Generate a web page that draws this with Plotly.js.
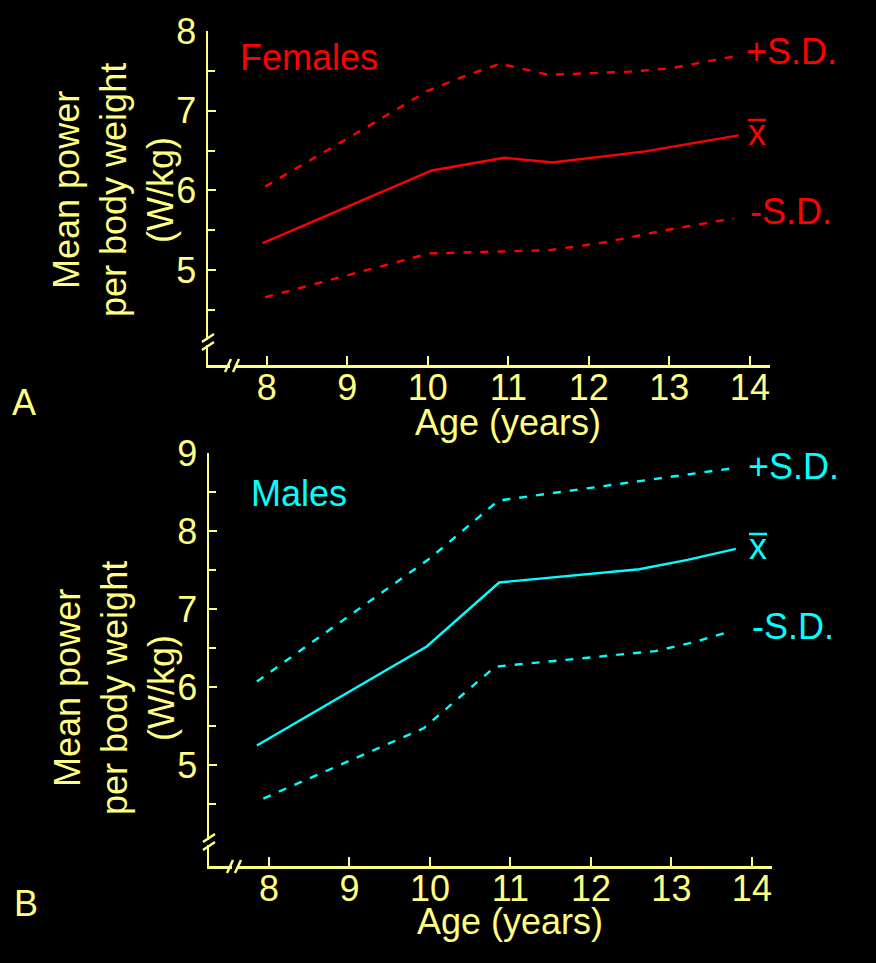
<!DOCTYPE html>
<html>
<head>
<meta charset="utf-8">
<script src="https://cdn.plot.ly/plotly-3.0.1.min.js"></script>
<style>html,body{margin:0;padding:0;background:#000;}#chart{width:876px;height:963px;}</style>
</head>
<body>
<div id="chart"></div>
<script>
// ---------- data ----------
const xTickVals = [8, 9, 10, 11, 12, 13, 14];
const femYTicks = [5, 6, 7, 8];
const femYMinor = [4.5, 5.5, 6.5, 7.5];
const maleYTicks = [5, 6, 7, 8, 9];
const maleYMinor = [4.5, 5.5, 6.5, 7.5, 8.5];

const femAgeMean = [7.95, 10.05, 10.95, 11.55, 12.7, 13.86];
const femMean    = [5.34, 6.25, 6.41, 6.35, 6.49, 6.69];
const femAgePlus = [7.98, 9.0, 10.0, 10.5, 10.9, 11.5, 12.5, 13.0, 13.8];
const femPlus    = [6.05, 6.65, 7.25, 7.45, 7.59, 7.45, 7.49, 7.53, 7.68];
const femAgeMinus = [7.98, 10.02, 11.5, 12.15, 13.0, 13.8];
const femMinus    = [4.66, 5.21, 5.25, 5.34, 5.51, 5.65];

const maleAgeMean = [7.85, 9.96, 10.86, 12.6, 13.2, 13.8];
const maleMean    = [5.25, 6.52, 7.34, 7.51, 7.63, 7.77];
const maleAgePlus = [7.85, 10.0, 10.85, 12.1, 13.2, 13.8];
const malePlus    = [6.07, 7.65, 8.39, 8.57, 8.72, 8.81];
const maleAgeMinus = [7.93, 9.92, 10.81, 11.5, 12.05, 12.8, 13.3, 13.75];
const maleMinus    = [4.57, 5.47, 6.26, 6.33, 6.39, 6.46, 6.58, 6.72];

// ---------- styling ----------
const W = 876, H = 963;
const YEL = '#ffff80', RED = '#ff0000', CYAN = '#00ffff';
const FONT = 'Liberation Sans, Arial, Helvetica, sans-serif';
const FS = 36;
const DASH = '8px,9px';
const px = v => v / W;
const py = v => 1 - v / H;

function line(x, y, color, dash, xa, ya) {
  return {x: x, y: y, type: 'scatter', mode: 'lines', xaxis: xa, yaxis: ya,
          line: {color: color, width: 2.4, dash: dash}, hoverinfo: 'skip'};
}

const data = [
  line(femAgePlus, femPlus, RED, DASH, 'x', 'y'),
  line(femAgeMean, femMean, RED, 'solid', 'x', 'y'),
  line(femAgeMinus, femMinus, RED, DASH, 'x', 'y'),
  line(maleAgePlus, malePlus, CYAN, DASH, 'x2', 'y2'),
  line(maleAgeMean, maleMean, CYAN, 'solid', 'x2', 'y2'),
  line(maleAgeMinus, maleMinus, CYAN, DASH, 'x2', 'y2')
];

function xAxis(domain, range, anchor) {
  return {domain: domain, range: range, anchor: anchor, showline: true, linecolor: YEL, linewidth: 2.5,
          ticks: 'inside', ticklen: 9, tickwidth: 2, tickcolor: YEL, tickmode: 'array', tickvals: xTickVals,
          tickfont: {family: FONT, size: FS, color: YEL}, showgrid: false, zeroline: false,
          ticklabelstandoff: -11, fixedrange: true};
}
function yAxis(domain, range, anchor, ticks, minor) {
  return {domain: domain, range: range, anchor: anchor, showline: true, linecolor: YEL, linewidth: 2.5,
          ticks: 'inside', ticklen: 8, tickwidth: 2, tickcolor: YEL, tickmode: 'array', tickvals: ticks,
          minor: {tickmode: 'array', tickvals: minor, ticks: 'inside', ticklen: 7, tickwidth: 2, tickcolor: YEL, showgrid: false},
          tickfont: {family: FONT, size: FS, color: YEL}, showgrid: false, zeroline: false,
          ticklabelstandoff: 2, fixedrange: true};
}

function ann(text, x, y, color, xanchor, extra) {
  return Object.assign({text: text, x: px(x), y: py(y), xref: 'paper', yref: 'paper', showarrow: false,
          xanchor: xanchor || 'center', yanchor: 'middle', font: {family: FONT, size: FS, color: color}}, extra || {});
}

const yTitle = 'Mean power<br>per body weight<br>(W/kg)';
const annotations = [
  ann('Females', 238, 58, RED, 'left'),
  ann('+S.D.', 744, 52, RED, 'left'),
  ann('x', 757, 133, RED, 'center'),
  ann('-S.D.', 748, 212, RED, 'left'),
  ann('Males', 249, 493, CYAN, 'left'),
  ann('+S.D.', 746, 466, CYAN, 'left'),
  ann('x', 758, 546, CYAN, 'center'),
  ann('-S.D.', 750, 626, CYAN, 'left'),
  ann(yTitle, 114, 190, YEL, 'center', {textangle: -90}),
  ann(yTitle, 114, 688, YEL, 'center', {textangle: -90}),
  ann('Age (years)', 508, 422, YEL, 'center'),
  ann('Age (years)', 510, 921, YEL, 'center'),
  ann('A', 24, 402, YEL, 'center'),
  ann('B', 26, 903, YEL, 'center')
];

function seg(x0, y0, x1, y1, color, w) {
  return {type: 'line', xref: 'paper', yref: 'paper', x0: px(x0), y0: py(y0), x1: px(x1), y1: py(y1),
          line: {color: color, width: w || 3}, layer: 'above'};
}
function blk(x0, y0, x1, y1) {
  return {type: 'rect', xref: 'paper', yref: 'paper', x0: px(x0), y0: py(y0), x1: px(x1), y1: py(y1),
          fillcolor: '#000', line: {width: 0}, layer: 'above'};
}
function pathOf(pts) {
  // pts: array of [x0,y0,x1,y1] in pixels -> one path with several sub-segments
  const d = pts.map(s => 'M' + px(s[0]) + ',' + py(s[1]) + ' L' + px(s[2]) + ',' + py(s[3])).join(' ');
  return {type: 'path', xref: 'paper', yref: 'paper', path: d, line: {color: YEL, width: 2.5}, layer: 'above'};
}
function breaks(axX, axY, yBreak, xBreak) {
  return [
    blk(axX - 3, yBreak - 2, axX + 3, yBreak + 3),
    blk(xBreak - 2, axY - 3, xBreak + 3, axY + 3),
    pathOf([
      [axX - 6, yBreak, axX + 6, yBreak - 8],
      [axX - 6, yBreak + 8, axX + 6, yBreak],
      [xBreak - 7, axY + 7, xBreak - 1, axY - 6],
      [xBreak + 1, axY + 7, xBreak + 7, axY - 6]
    ])
  ];
}
function overbar(xc, yb, color) { return seg(xc - 9, yb, xc + 9, yb, color, 2.5); }

const shapes = [].concat(
  breaks(208, 365, 342, 232),
  breaks(209, 866, 842, 234),
  [overbar(757, 120, RED), overbar(758, 534, CYAN)]
);

const layout = {
  width: W, height: H, margin: {l: 0, r: 0, t: 0, b: 0},
  paper_bgcolor: '#000', plot_bgcolor: '#000', showlegend: false,
  font: {family: FONT, color: YEL},
  xaxis: xAxis([px(208), px(770)], [7.27, 14.25], 'y'),
  yaxis: yAxis([py(365), py(31)], [3.81, 8], 'x', femYTicks, femYMinor),
  xaxis2: xAxis([px(209), px(772)], [7.255, 14.25], 'y2'),
  yaxis2: yAxis([py(866), py(453)], [3.705, 9], 'x2', maleYTicks, maleYMinor),
  annotations: annotations,
  shapes: shapes
};

Plotly.newPlot('chart', data, layout, {staticPlot: true, displayModeBar: false});
</script>
</body>
</html>
